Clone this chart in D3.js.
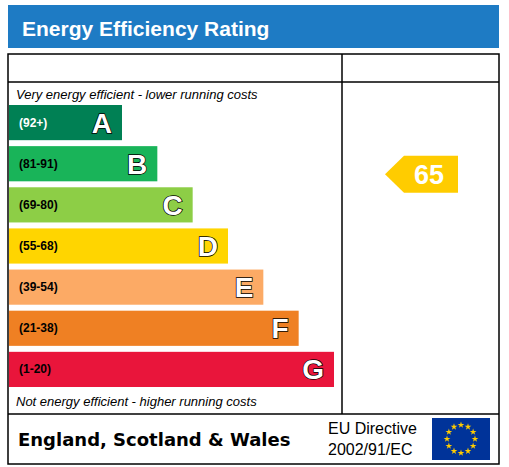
<!DOCTYPE html><html><head><meta charset="utf-8"><script src="https://cdn.jsdelivr.net/npm/d3@7"></script>
<style>body{margin:0;background:#fff}</style></head><body><svg id="c" width="509" height="467"></svg>
<script>
const letters=["A","B","C","D","E","F","G"];
const ranges=["(92+)","(81-91)","(69-80)","(55-68)","(39-54)","(21-38)","(1-20)"];
const colors=["#008054","#19b459","#8dce46","#ffd500","#fcaa65","#ef8023","#e9153b"];
const current=[65];
const svg=d3.select("#c");
const F="Liberation Sans, Arial, sans-serif";
svg.append("rect").attr("x",8).attr("y",5).attr("width",491).attr("height",43).attr("fill","#1e7bc4");
svg.append("text").attr("x",22).attr("y",36).attr("fill","#fff").attr("font-family",F).attr("font-weight","bold").attr("font-size",21).text("Energy Efficiency Rating");
const g=svg.append("g").attr("fill","none").attr("stroke","#000").attr("stroke-width",1.5);
g.append("rect").attr("x",8).attr("y",54).attr("width",491).attr("height",410);
g.append("line").attr("x1",8).attr("x2",499).attr("y1",82).attr("y2",82);
g.append("line").attr("x1",8).attr("x2",499).attr("y1",414).attr("y2",414);
g.append("line").attr("x1",342).attr("x2",342).attr("y1",54).attr("y2",414);
const y=d3.scaleBand().domain(letters).range([105,387]).paddingInner(0.145).paddingOuter(0);
const w=d3.scaleLinear().domain([0,6]).range([113,325]);
const bars=svg.selectAll(".b").data(letters).join("g");
bars.append("rect").attr("x",9).attr("y",d=>y(d)).attr("height",y.bandwidth()).attr("width",(d,i)=>w(i)).attr("fill",(d,i)=>colors[i]);
bars.append("text").attr("x",19).attr("y",d=>y(d)+y.bandwidth()/2+4).attr("font-family",F).attr("font-weight","bold").attr("font-size",12).attr("fill",(d,i)=>i==0?"#fff":"#000").text((d,i)=>ranges[i]);
bars.append("text").attr("x",(d,i)=>9+w(i)-10).attr("y",d=>y(d)+y.bandwidth()/2+10).attr("text-anchor","end").attr("font-family",F).attr("font-weight","900").attr("font-size",28).attr("fill","#fff").attr("stroke","#000").attr("stroke-width",1.5).attr("paint-order","stroke").text(d=>d);
svg.append("text").attr("x",16).attr("y",99).attr("font-family",F).attr("font-style","italic").attr("font-size",13).text("Very energy efficient - lower running costs");
svg.append("text").attr("x",16).attr("y",406).attr("font-family",F).attr("font-style","italic").attr("font-size",13).text("Not energy efficient - higher running costs");
const vy=d3.scaleLinear().domain([0,100]).range([390,58]);
const h=37, cy=vy(current[0])-h/2;
svg.append("path").attr("d",`M385,${cy+h/2} L404,${cy} L458,${cy} L458,${cy+h} L404,${cy+h} Z`).attr("fill","#ffcc00");
svg.append("text").attr("x",429).attr("y",cy+h/2+10).attr("text-anchor","middle").attr("font-family",F).attr("font-weight","bold").attr("font-size",27).attr("fill","#fff").text(current[0]);
svg.append("text").attr("x",18).attr("y",446).attr("font-family","DejaVu Sans, sans-serif").attr("font-weight","bold").attr("font-size",18).text("England, Scotland & Wales");
svg.append("text").attr("x",328).attr("y",434).attr("font-family",F).attr("font-size",16).text("EU Directive");
svg.append("text").attr("x",328).attr("y",455).attr("font-family",F).attr("font-size",16).text("2002/91/EC");
svg.append("rect").attr("x",432).attr("y",418).attr("width",58).attr("height",42).attr("fill","#003399");
const star=d3.symbol(d3.symbolStar,14);
for(let k=0;k<12;k++){const a=k*Math.PI/6;svg.append("path").attr("d",star()).attr("transform",`translate(${461+14*Math.cos(a)},${439+14*Math.sin(a)})`).attr("fill","#ffcc00");}
</script></body></html>
